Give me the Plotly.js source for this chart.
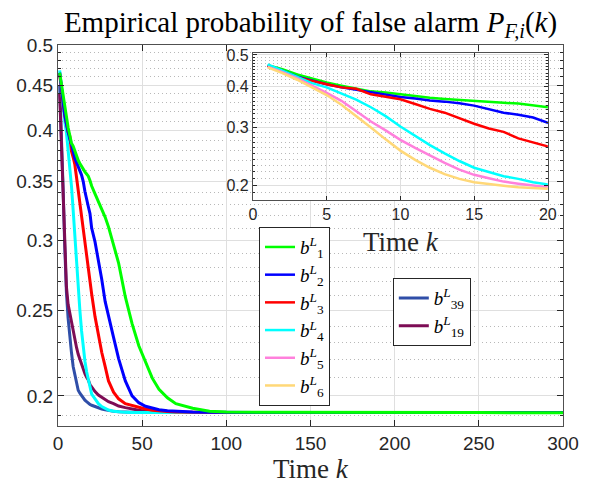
<!DOCTYPE html>
<html>
<head>
<meta charset="utf-8">
<script src="https://cdn.plot.ly/plotly-3.0.1.min.js"></script>
<style>html,body{margin:0;padding:0;background:#fff;}#chart{width:590px;height:485px;}</style>
</head>
<body>
<div id="chart"></div>
<script>
// ---- data ----
var kMain = [1,2,3,4,5,6,7,8,9,10,11,12,13,14,15,16,17,18,19,20,
             22,24,26,28,30,33,36,40,44,48,52,56,60,65,70,75,80,90,100,120,150,200,250,300];
var kInset = [1,2,3,4,5,6,7,8,9,10,11,12,13,14,15,16,17,18,19,20];

var b1 = [0.465,0.452,0.436,0.424,0.412,0.403,0.395,0.387,0.384,0.379,0.374,0.370,0.367,0.364,0.362,0.359,0.357,0.355,0.351,0.346,
          0.339,0.332,0.326,0.319,0.311,0.296,0.283,0.259,0.2415,0.228,0.218,0.2095,0.2035,0.199,0.196,0.1947,0.1937,0.1922,0.1918,0.1916,0.1915,0.1915,0.1915,0.1914];
var b2 = [0.465,0.448,0.429,0.417,0.407,0.398,0.391,0.386,0.378,0.372,0.368,0.363,0.360,0.356,0.350,0.341,0.333,0.328,0.322,0.310,
          0.299,0.285,0.271,0.256,0.246,0.233,0.2205,0.208,0.200,0.1965,0.1947,0.1936,0.1929,0.1924,0.1921,0.1919,0.1918,0.1917,0.1916,0.1915,0.1915,0.1915,0.1915,0.1915];
var b3 = [0.463,0.446,0.427,0.416,0.407,0.398,0.394,0.379,0.373,0.366,0.354,0.342,0.333,0.320,0.308,0.298,0.291,0.278,0.270,0.261,
          0.246,0.234,0.224,0.216,0.208,0.202,0.1985,0.196,0.1950,0.1940,0.1933,0.1927,0.1923,0.1920,0.1918,0.1917,0.1916,0.1915,0.1915,0.1915,0.1915,0.1915,0.1915,0.1915];
var b4 = [0.468,0.447,0.428,0.410,0.398,0.382,0.365,0.346,0.325,0.302,0.282,0.265,0.250,0.237,0.226,0.219,0.213,0.209,0.204,0.201,
          0.1985,0.196,0.1945,0.1935,0.1928,0.1922,0.1918,0.1916,0.1915,0.1915,0.1915,0.1915,0.1915,0.1915,0.1915,0.1915,0.1915,0.1915,0.1915,0.1915,0.1915,0.1915,0.1915,0.1915];
var b5 = [0.460,0.443,0.424,0.404,0.383,0.362,0.337,0.313,0.294,0.275,0.260,0.246,0.234,0.223,0.215,0.210,0.205,0.202,0.199,0.197];
var b6 = [0.458,0.440,0.420,0.398,0.377,0.352,0.326,0.300,0.276,0.255,0.239,0.226,0.216,0.209,0.204,0.201,0.199,0.197,0.196,0.195];
var b39 = [0.450,0.400,0.345,0.296,0.262,0.245,0.232,0.224,0.216,0.211,0.206,0.203,0.2014,0.200,0.1988,0.1978,0.1970,0.1962,0.1956,0.1952,
           0.1945,0.1938,0.1933,0.1929,0.1925,0.1921,0.1919,0.1917,0.1916,0.1915,0.1915,0.1915,0.1915,0.1915,0.1915,0.1915,0.1915,0.1915,0.1915,0.1915,0.1915,0.1915,0.1915,0.1915];
var b19 = [0.440,0.392,0.345,0.300,0.266,0.254,0.248,0.242,0.236,0.231,0.227,0.223,0.220,0.217,0.215,0.212,0.210,0.2085,0.206,0.2045,
           0.2023,0.2005,0.1992,0.1980,0.1970,0.1960,0.1948,0.1940,0.1932,0.1927,0.1922,0.1919,0.1917,0.1916,0.1915,0.1915,0.1915,0.1915,0.1915,0.1915,0.1915,0.1915,0.1915,0.1915];

var names = ['<i>b</i><sup><i>L</i></sup><sub>1</sub>','<i>b</i><sup><i>L</i></sup><sub>2</sub>','<i>b</i><sup><i>L</i></sup><sub>3</sub>',
             '<i>b</i><sup><i>L</i></sup><sub>4</sub>','<i>b</i><sup><i>L</i></sup><sub>5</sub>','<i>b</i><sup><i>L</i></sup><sub>6</sub>'];
var name39 = '<i>b</i><sup><i>L</i></sup><sub>39</sub>';
var name19 = '<i>b</i><sup><i>L</i></sup><sub>19</sub>';
var colors = ['#00ff00','#0000ff','#ff0000','#00ffff','#ff80dc','#ffd878'];
var col39 = '#2f4ea8', col19 = '#7d0c55';

var mainYTicks = [0.2,0.25,0.3,0.35,0.4,0.45,0.5];
var mainYText = ['0.2','0.25','0.3','0.35','0.4','0.45','0.5'];
var mainXTicks = [0,50,100,150,200,250,300];
var insetYTicks = [0.2,0.3,0.4,0.5];
var insetXTicks = [0,5,10,15,20];

// minor tick positions (every 0.01)
var mainMinor = [], insetMinor = [];
for (var i = 19; i <= 49; i++) { if (i % 5 !== 0) mainMinor.push(i / 100); }
for (var j = 19; j <= 49; j++) { if (j % 10 !== 0) insetMinor.push(j / 100); }

var serif = 'Liberation Serif, DejaVu Serif, serif';
var sans = 'Liberation Sans, Arial, sans-serif';
var axCol = '#262626';
var dotDash = '1px,3px';

var traces = [];
// main plot
traces.push({x: kMain, y: b39, type: 'scatter', mode: 'lines', name: name39, line: {color: col39, width: 3}, legend: 'legend2', xaxis: 'x', yaxis: 'y'});
traces.push({x: kMain, y: b19, type: 'scatter', mode: 'lines', name: name19, line: {color: col19, width: 3}, legend: 'legend2', xaxis: 'x', yaxis: 'y'});
var mainSeries = [b1, b2, b3, b4];
for (var m = 3; m >= 0; m--) {
  traces.push({x: kMain, y: mainSeries[m], type: 'scatter', mode: 'lines', name: names[m], showlegend: false,
               line: {color: colors[m], width: 3}, xaxis: 'x', yaxis: 'y'});
}
// inset
var insetSeries = [b1, b2, b3, b4, b5, b6];
for (var n = 0; n < 6; n++) {
  var xs = insetSeries[n].length === kInset.length ? kInset : kMain;
  traces.push({x: xs, y: insetSeries[n], type: 'scatter', mode: 'lines', name: names[n],
               line: {color: colors[n], width: 2.5}, xaxis: 'x2', yaxis: 'y2', legend: 'legend'});
}

var layout = {
  width: 590, height: 485,
  margin: {l: 58, r: 27, t: 45, b: 59},
  paper_bgcolor: '#ffffff', plot_bgcolor: '#ffffff',
  showlegend: true,
  title: {text: 'Empirical probability of false alarm <i>P</i><sub><i>F,i</i></sub>(<i>k</i>)',
          font: {family: serif, size: 29, color: '#000'}, x: 0.5, xref: 'paper', xanchor: 'center',
          y: 1 - 22/485, yref: 'container', yanchor: 'middle'},
  xaxis: {domain: [0, 1], range: [0, 300], tickmode: 'array', tickvals: mainXTicks,
          ticks: 'inside', ticklen: 6, tickcolor: axCol, mirror: 'ticks', showline: true, linecolor: '#505050', linewidth: 1,
          showgrid: true, gridcolor: '#dfdfdf', zeroline: false,
          tickfont: {family: sans, size: 19, color: axCol}},
  yaxis: {domain: [0, 1], type: 'log', range: [Math.log10(0.1849), Math.log10(0.5)], tickmode: 'array',
          tickvals: mainYTicks, ticktext: mainYText,
          ticks: 'inside', ticklen: 6, tickcolor: axCol, mirror: 'ticks', showline: true, linecolor: '#505050', linewidth: 1,
          showgrid: true, gridcolor: '#dfdfdf', zeroline: false,
          tickfont: {family: sans, size: 19, color: axCol},
          minor: {tickmode: 'array', tickvals: mainMinor, ticks: 'inside', ticklen: 3, tickcolor: axCol,
                  showgrid: true, gridcolor: '#b8b8b8', griddash: dotDash, gridwidth: 1}},
  xaxis2: {domain: [0.386, 0.970], anchor: 'y2', range: [0, 20], tickmode: 'array', tickvals: insetXTicks,
           ticks: 'inside', ticklen: 4, tickcolor: axCol, mirror: 'ticks', showline: true, linecolor: '#505050', linewidth: 1,
           showgrid: true, gridcolor: '#dfdfdf', zeroline: false,
           tickfont: {family: sans, size: 16, color: axCol},
           title: {text: 'Time <i>k</i>', font: {family: serif, size: 27, color: axCol}, standoff: 9}},
  yaxis2: {domain: [0.593, 0.979], anchor: 'x2', type: 'log', range: [Math.log10(0.18), Math.log10(0.507)],
           tickmode: 'array', tickvals: insetYTicks, ticktext: ['0.2','0.3','0.4','0.5'],
           ticks: 'inside', ticklen: 4, tickcolor: axCol, mirror: 'ticks', showline: true, linecolor: '#505050', linewidth: 1,
           showgrid: true, gridcolor: '#dfdfdf', zeroline: false,
           tickfont: {family: sans, size: 16, color: axCol},
           minor: {tickmode: 'array', tickvals: insetMinor, ticks: 'inside', ticklen: 2, tickcolor: axCol,
                   showgrid: true, gridcolor: '#b8b8b8', griddash: dotDash, gridwidth: 1}},
  legend: {x: 0.398, y: 0.522, xanchor: 'left', yanchor: 'top', xref: 'paper', yref: 'paper',
           bgcolor: '#ffffff', bordercolor: '#262626', borderwidth: 1, tracegroupgap: 0,
           font: {family: serif, size: 19, color: '#000'}},
  legend2: {x: 0.663, y: 0.388, xanchor: 'left', yanchor: 'top', xref: 'paper', yref: 'paper',
            bgcolor: '#ffffff', bordercolor: '#262626', borderwidth: 1, tracegroupgap: 0,
            font: {family: serif, size: 19, color: '#000'}},
  annotations: [{text: 'Time <i>k</i>', xref: 'paper', yref: 'paper', x: 0.5, y: (426 - 469) / 381,
                 xanchor: 'center', yanchor: 'middle', showarrow: false,
                 font: {family: serif, size: 27, color: axCol}}]
};

Plotly.newPlot('chart', traces, layout, {displayModeBar: false, staticPlot: true});
</script>
</body>
</html>
